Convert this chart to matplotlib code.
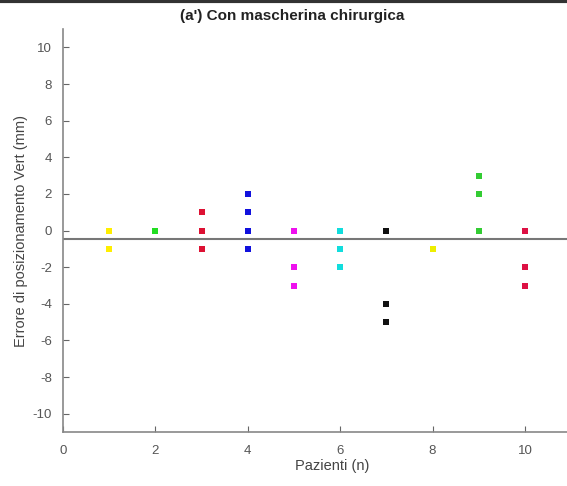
import matplotlib
matplotlib.use("Agg")
import matplotlib.pyplot as plt
from matplotlib.lines import Line2D

plt.rcParams['font.family'] = ['Liberation Sans', 'DejaVu Sans']
plt.rcParams['axes.unicode_minus'] = False

patients = [1, 2, 3, 4, 5, 6, 7, 8, 9, 10]
errors = [
    [0, -1],
    [0],
    [1, 0, -1],
    [2, 1, 0, -1],
    [0, -2, -3],
    [0, -1, -2],
    [0, -4, -5],
    [-1],
    [3, 2, 0],
    [0, -2, -3],
]
colors = ['#ffee00', '#22dd22', '#dd1133', '#1111dd', '#ee11ee',
          '#11dddd', '#111111', '#eeee00', '#33cc33', '#dd1144']
mean_line = -0.46
title = "(a') Con mascherina chirurgica"
xlabel = "Pazienti (n)"
ylabel = "Errore di posizionamento Vert (mm)"
xticks = [0, 2, 4, 6, 8, 10]
yticks = [-10, -8, -6, -4, -2, 0, 2, 4, 6, 8, 10]

fig = plt.figure(figsize=(5.67, 4.86), dpi=100)
ax = fig.add_axes([0.111, 0.111, 0.95, 0.829])

for p, vals, c in zip(patients, errors, colors):
    ax.scatter([p] * len(vals), vals, marker='s', s=22, color=c, linewidths=0, zorder=3)

ax.axhline(mean_line, color='#777777', lw=1.5, zorder=2)

ax.set_xlim(0, 11.66)
ax.set_ylim(-11, 11)
ax.set_xticks(xticks)
ax.set_yticks(yticks)
ax.tick_params(direction='in', colors='#666666', labelcolor='#555555', labelsize=9.5, length=4)
ax.tick_params(axis='x', pad=9)
ax.tick_params(axis='y', pad=8)
ax.spines['top'].set_visible(False)
ax.spines['right'].set_visible(False)
ax.spines['left'].set_color('#888888')
ax.spines['bottom'].set_color('#888888')
ax.spines['left'].set_linewidth(1.2)
ax.spines['bottom'].set_linewidth(1.2)

ax.set_xlabel(xlabel, fontsize=10.5, color='#444444', labelpad=2)
ax.set_ylabel(ylabel, fontsize=10.5, color='#444444', labelpad=3)
fig.text(292 / 567, 1 - 16 / 486, title, fontsize=11, fontweight='bold', color='#222222',
         ha='center', va='center')

fig.add_artist(Line2D([0, 1], [0.997, 0.997], transform=fig.transFigure, color='#333333', lw=3))

fig.savefig("out.png", dpi=100)
